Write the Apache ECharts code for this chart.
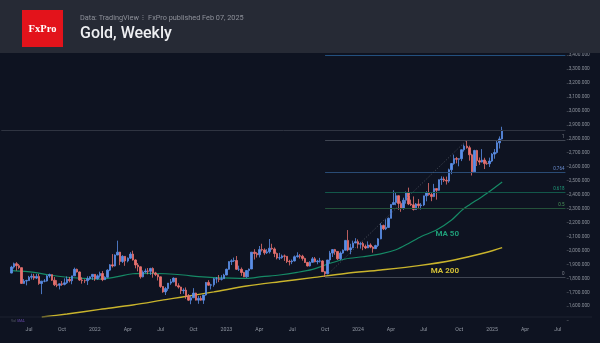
<!DOCTYPE html>
<html><head><meta charset="utf-8">
<script src="https://cdn.jsdelivr.net/npm/echarts@6/dist/echarts.min.js"></script>
<style>html,body{margin:0;padding:0;background:#0e1321;}#c{width:600px;height:343px;}</style>
</head><body><div id="c"></div>
<script>
// ---- categories (weekly bars, Monday dates) ----
const firstCategoryWeek = '2021-04-19';
const categoryCount = 224;
const firstCandleWeek = '2021-05-17';

// ---- weekly OHLC [open, high, low, close] ----
const ohlc2021 = [
[1838,1890,1836,1881],[1881,1913,1870,1905],[1905,1916,1855,1891],[1891,1903,1866,1877],
[1877,1878,1761,1764],[1764,1795,1761,1781],[1781,1790,1750,1784],[1784,1818,1784,1808],
[1808,1834,1792,1815],[1815,1833,1789,1802],[1802,1832,1795,1814],[1814,1832,1754,1763],
[1763,1782,1687,1780],[1780,1795,1772,1781],[1781,1823,1777,1817],[1817,1834,1804,1827],
[1827,1827,1782,1787],[1787,1809,1745,1754],[1754,1787,1737,1750],[1750,1764,1721,1761],
[1761,1781,1746,1757],[1757,1800,1750,1768],[1768,1814,1760,1793],[1793,1810,1771,1783],
[1783,1818,1758,1818],[1818,1877,1817,1865],[1865,1870,1842,1846],[1846,1849,1782,1788],
[1788,1808,1762,1784],[1784,1793,1766,1783],[1783,1815,1753,1798],[1798,1815,1789,1811],
[1811,1830,1789,1829]];
const ohlc2022 = [
[1829,1831,1782,1797],[1797,1829,1791,1818],[1818,1848,1805,1835],[1835,1853,1780,1791],
[1791,1815,1788,1808],[1808,1865,1805,1859],[1859,1902,1852,1897],[1897,1974,1878,1889],
[1889,1972,1885,1967],[1967,2070,1966,1988],[1988,1990,1895,1921],[1921,1966,1910,1958],
[1958,1960,1890,1925],[1925,1950,1915,1945],[1945,1988,1940,1974],[1974,1998,1927,1932],
[1932,1937,1872,1896],[1896,1910,1850,1883],[1883,1886,1798,1811],[1811,1857,1807,1846],
[1846,1870,1840,1853],[1853,1874,1829,1851],[1851,1876,1825,1871],[1871,1879,1805,1839],
[1839,1847,1816,1827],[1827,1830,1785,1811],[1811,1813,1732,1742],[1742,1745,1697,1703],
[1703,1739,1681,1727],[1727,1767,1711,1766],[1766,1795,1754,1775],[1775,1807,1772,1802],
[1802,1802,1744,1747],[1747,1765,1727,1738],[1738,1740,1688,1712],[1712,1729,1690,1716],
[1716,1735,1654,1675],[1675,1688,1639,1644],[1644,1676,1615,1661],[1661,1730,1660,1695],
[1695,1697,1642,1644],[1644,1675,1618,1657],[1657,1675,1640,1644],[1644,1682,1617,1681],
[1681,1774,1676,1771],[1771,1787,1747,1751],[1751,1761,1721,1754],[1754,1804,1740,1797],
[1797,1810,1765,1797],[1797,1824,1773,1793],[1793,1823,1785,1798],[1798,1833,1797,1824]];
const ohlc2023 = [
[1824,1870,1823,1865],[1865,1922,1862,1920],[1920,1937,1896,1926],[1926,1949,1917,1928],
[1928,1960,1861,1865],[1865,1891,1853,1865],[1865,1878,1818,1842],[1842,1847,1809,1811],
[1811,1858,1804,1856],[1856,1870,1810,1867],[1867,1989,1867,1988],[1988,2009,1935,1978],
[1978,1988,1949,1969],[1969,2032,1950,2006],[2006,2048,1992,2004],[2004,2015,1969,1983],
[1983,2009,1975,1990],[1990,2082,1978,2016],[2016,2048,2005,2011],[2011,2022,1952,1978],
[1978,1985,1936,1946],[1946,1983,1932,1948],[1948,1971,1940,1961],[1961,1971,1925,1958],
[1958,1959,1910,1921],[1921,1933,1893,1919],[1919,1935,1902,1925],[1925,1964,1921,1955],
[1955,1987,1949,1962],[1962,1974,1942,1959],[1959,1969,1927,1943],[1943,1948,1910,1914],
[1914,1918,1885,1889],[1889,1923,1885,1915],[1915,1953,1912,1940],[1940,1953,1915,1919],
[1919,1933,1901,1924],[1924,1947,1913,1925],[1925,1930,1846,1848],[1848,1852,1810,1833],
[1833,1933,1833,1932],[1932,1997,1908,1981],[1981,2009,1953,2006],[2006,2011,1969,1993],
[1993,1993,1932,1940],[1940,1993,1931,1981],[1981,2007,1976,2002],[2002,2075,2000,2072],
[2072,2146,1994,2004],[2004,2048,1973,2019],[2019,2070,2016,2053],[2053,2088,2053,2063]];
const ohlc2024 = [
[2063,2079,2015,2045],[2045,2062,2013,2049],[2049,2062,2002,2029],[2029,2042,2010,2018],
[2018,2065,2017,2039],[2039,2051,2016,2024],[2024,2031,1984,2013],[2013,2041,2011,2035],
[2035,2088,2024,2083],[2083,2195,2080,2179],[2179,2185,2146,2155],[2155,2223,2146,2165],
[2165,2236,2163,2230],[2230,2330,2229,2329],[2329,2431,2325,2343],[2343,2417,2324,2392],
[2392,2395,2291,2337],[2337,2352,2277,2302],[2302,2378,2291,2360],[2360,2422,2335,2415],
[2415,2450,2325,2333],[2333,2364,2319,2327],[2327,2387,2286,2294],[2294,2340,2292,2333],
[2333,2368,2296,2321],[2321,2339,2293,2326],[2326,2392,2318,2391],[2391,2424,2352,2411],
[2411,2483,2392,2400],[2400,2412,2353,2386],[2386,2477,2382,2443],[2443,2443,2364,2431],
[2431,2509,2427,2507],[2507,2531,2470,2512],[2512,2528,2490,2503],[2503,2529,2472,2497],
[2497,2586,2485,2578],[2578,2626,2546,2622],[2622,2686,2614,2658],[2658,2670,2624,2653],
[2653,2660,2603,2657],[2657,2723,2640,2721],[2721,2759,2708,2747],[2747,2790,2729,2736],
[2736,2750,2643,2685],[2685,2693,2537,2563],[2563,2721,2560,2716],[2716,2721,2605,2643],
[2643,2666,2613,2633],[2633,2726,2630,2648],[2648,2664,2583,2622],[2622,2639,2614,2621],
[2621,2665,2598,2640]];
const ohlc2025 = [
[2640,2697,2633,2690],[2690,2726,2657,2702],[2702,2786,2694,2771],[2771,2817,2730,2799],
[2799,2886,2795,2861]];

// ---- moving averages [week, value] ----
const ma50 = [
['2021-05-17',1855],['2021-07-19',1843],['2021-08-30',1824],['2021-10-18',1808],['2021-11-29',1800],
['2022-01-17',1795],['2022-03-07',1812],['2022-04-18',1833],['2022-06-06',1836],['2022-07-18',1833],
['2022-09-05',1824],['2022-10-17',1812],['2022-11-28',1805],['2023-02-27',1800],['2023-04-10',1812],
['2023-05-29',1824],['2023-07-17',1843],['2023-08-28',1865],['2023-10-16',1908],['2023-11-27',1939],
['2024-01-15',1955],['2024-03-04',1975],['2024-04-15',2005],['2024-05-20',2050],['2024-06-24',2100],
['2024-08-05',2146],['2024-09-16',2218],['2024-10-14',2287],['2024-11-04',2326],['2024-12-02',2373],
['2024-12-23',2409],['2025-02-03',2490]];
const ma200 = [
['2021-08-09',1523],['2021-10-18',1545],['2022-01-17',1578],['2022-04-18',1609],['2022-07-18',1648],
['2022-08-29',1665],['2022-11-28',1703],['2023-02-27',1745],['2023-05-29',1776],['2023-08-28',1805],
['2023-11-27',1835],['2024-03-04',1860],['2024-06-17',1891],['2024-09-23',1932],['2024-12-23',1987],
['2025-02-03',2020]];

// ---- axis tick labels ----
const tickWeeks = ['2021-07-05','2021-10-04','2022-01-03','2022-04-04','2022-07-04','2022-10-03',
  '2023-01-02','2023-04-03','2023-07-03','2023-10-02','2024-01-01','2024-04-01','2024-07-01',
  '2024-10-07','2025-01-06','2025-04-07','2025-07-07'];
const tickLabels = ['Jul','Oct','2022','Apr','Jul','Oct','2023','Apr','Jul','Oct','2024','Apr','Jul','Oct','2025','Apr','Jul'];

// ---- Fibonacci retracement ----
const fibLevelLabels = ['0','0.5','0.618','0.764','1','1.618'];
const fibPrices = [1810, 2300, 2415.6, 2558.7, 2790, 3395.6];
const fibLineColors = ['#3f4552','#24513a','#12574a','#294b75','#3f4552','#23507e'];
const fibLabelColors = ['#7d828c','#4c9a5c','#1f9a7a','#6b8dd0','#7d828c','#5b82c8'];
const fibStartWeek = '2023-10-02';
const fibEndWeek = '2024-10-28';
const lastClose = 2861;

// ---- build ----
function ymd(d){return d.toISOString().slice(0,10);}
const categories = [];
{ const s = new Date(firstCategoryWeek + 'T00:00:00Z');
  for (let k = 0; k < categoryCount; k++) categories.push(ymd(new Date(s.getTime() + k*7*86400000))); }
const allOhlc = [].concat(ohlc2021, ohlc2022, ohlc2023, ohlc2024, ohlc2025);
const startIdx = categories.indexOf(firstCandleWeek);
const candleData = allOhlc.map((r, k) => [categories[startIdx + k], r[0], r[3], r[2], r[1]]);
const lastCat = categories[categories.length - 1];
function fmt(v){return String(v).replace(/\B(?=(\d{3})+(?!\d))/g, ',') + '.000';}

const UP = '#5b8ee6', DOWN = '#e8716f';
const fibLines = fibPrices.map((p, k) => [
  {coord:[fibStartWeek, p], lineStyle:{color:fibLineColors[k], width:1, type:'solid'},
   label:{show:true, formatter:fibLevelLabels[k], position:'insideEndTop', color:fibLabelColors[k],
          fontSize:4.5, fontFamily:'Roboto', distance:[1,1]}},
  {coord:[lastCat, p]}]);
fibLines.push([{coord:[fibStartWeek, fibPrices[0]], lineStyle:{color:'#5a5f6a', width:0.8, type:[1,2]}, label:{show:false}},
               {coord:[fibEndWeek, fibPrices[4]]}]);
fibLines.push([{coord:[categories[0], lastClose], lineStyle:{color:'#2f3441', width:1, type:'solid'}, label:{show:false}},
               {coord:[lastCat, lastClose]}]);

const chart = echarts.init(document.getElementById('c'), null, {renderer:'canvas'});
chart.setOption({
  backgroundColor:'#0e1321',
  animation:false,
  grid:{left:0, right:33.3, top:41.04, bottom:22.74},
  xAxis:{type:'category', data:categories, boundaryGap:true,
    axisLine:{show:false}, axisTick:{show:false}, splitLine:{show:false},
    axisLabel:{interval:(i, v) => tickWeeks.indexOf(v) >= 0, formatter:v => tickLabels[tickWeeks.indexOf(v)] || '',
      color:'#9298a3', fontSize:5.2, fontFamily:'Roboto', margin:7}},
  yAxis:{type:'value', position:'right', min:1500, max:3500, interval:100, scale:true,
    axisLine:{show:false}, splitLine:{show:false},
    axisTick:{show:true, length:2, lineStyle:{color:'#3a3f4a'}},
    axisLabel:{formatter:v => (v === 1500 || v === 3500) ? '' : fmt(v), color:'#8c919b', fontSize:4.8,
      fontFamily:'Roboto', margin:2, align:'left'}},
  series:[
    {type:'line', data:[], silent:true, z:1,
     markLine:{silent:true, symbol:['none','none'], animation:false,
       lineStyle:{type:'solid', width:1}, data:fibLines}},
    {type:'line', name:'MA 200', data:ma200, showSymbol:false, smooth:0.3, z:3,
     lineStyle:{color:'#c9b42c', width:1.4}},
    {type:'line', name:'MA 50', data:ma50, showSymbol:false, smooth:0.3, z:3,
     lineStyle:{color:'#168a66', width:1.2}},
    {type:'candlestick', name:'Gold', data:candleData, barWidth:2, z:4,
     dimensions:['date','open','close','lowest','highest'],
     encode:{x:'date', y:['open','close','lowest','highest']},
     itemStyle:{color:UP, color0:DOWN, borderColor:UP, borderColor0:DOWN, borderWidth:0.8}}
  ],
  graphic:[
    {type:'rect', z:100, shape:{x:0, y:0, width:600, height:53}, style:{fill:'#262a35'}},
    {type:'rect', z:101, shape:{x:22, y:10, width:41, height:37}, style:{fill:'#e3131b'}},
    {type:'text', z:102, x:42.5, y:29, style:{text:'FxPro', fill:'#ffffff', font:'bold 10.5px "Liberation Serif"', align:'center', verticalAlign:'middle'}},
    {type:'text', z:102, x:80, y:18, style:{text:'Data: TradingView  \u205D  FxPro published Feb 07, 2025', fill:'#8e919a', font:'7.3px Roboto', verticalAlign:'middle'}},
    {type:'text', z:102, x:80, y:33.5, style:{text:'Gold, Weekly', fill:'#eeeff2', font:'500 16px Roboto', verticalAlign:'middle'}},
    {type:'line', z:50, shape:{x1:0, y1:317, x2:592, y2:317}, style:{stroke:'#1d2230', lineWidth:1}},
    {type:'text', z:102, x:459, y:234, style:{text:'MA 50', fill:'#1f9c78', font:'bold 8px Roboto', align:'right', verticalAlign:'middle'}},
    {type:'text', z:102, x:459, y:270.7, style:{text:'MA 200', fill:'#d2bf36', font:'bold 8px Roboto', align:'right', verticalAlign:'middle'}},
    {type:'text', z:102, x:11, y:321, style:{text:'Vol', fill:'#555a66', font:'3.5px Roboto', verticalAlign:'middle'}},
    {type:'text', z:102, x:17, y:321, style:{text:'SMA', fill:'#6a4cb0', font:'3.5px Roboto', verticalAlign:'middle'}}
  ]
});
</script></body></html>
